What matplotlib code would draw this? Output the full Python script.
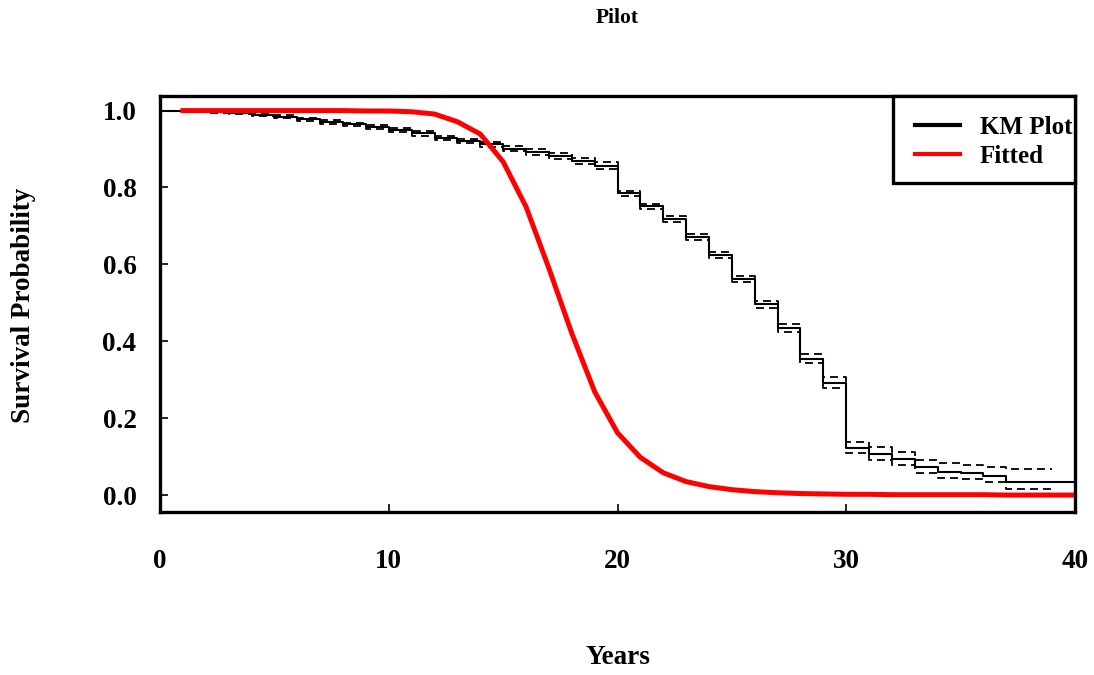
import matplotlib
matplotlib.use('Agg')
import matplotlib.pyplot as plt
from matplotlib.patches import Rectangle

# Kaplan-Meier survival per year (value holding from that year on)
km_years = list(range(0, 38))
km_surv = [1.000, 0.998, 0.996, 0.993, 0.989, 0.984, 0.978, 0.971, 0.964, 0.958,
           0.950, 0.941, 0.929, 0.921, 0.912, 0.901, 0.892, 0.881, 0.870, 0.857,
           0.785, 0.751, 0.718, 0.672, 0.625, 0.561, 0.496, 0.435, 0.355, 0.292,
           0.122, 0.107, 0.094, 0.072, 0.061, 0.057, 0.050, 0.033]
km_upper = [1.000, 0.999, 0.998, 0.996, 0.992, 0.988, 0.982, 0.976, 0.969, 0.963,
            0.956, 0.947, 0.935, 0.927, 0.919, 0.908, 0.899, 0.889, 0.878, 0.865,
            0.792, 0.758, 0.725, 0.680, 0.633, 0.569, 0.505, 0.445, 0.367, 0.307,
            0.139, 0.124, 0.113, 0.091, 0.083, 0.078, 0.074, 0.067]
km_lower = [1.000, 0.997, 0.994, 0.990, 0.986, 0.980, 0.974, 0.966, 0.959, 0.953,
            0.944, 0.935, 0.923, 0.915, 0.905, 0.894, 0.885, 0.873, 0.862, 0.849,
            0.778, 0.744, 0.711, 0.664, 0.617, 0.553, 0.487, 0.425, 0.343, 0.279,
            0.109, 0.091, 0.078, 0.057, 0.044, 0.043, 0.035, 0.017]
km_end = 40     # KM curve is carried to the end of the axis
ci_end = 39     # confidence bands stop at the last observation

# fitted survival curve, evaluated at whole years
fit_years = list(range(1, 41))
fit_surv = [1.000, 1.000, 1.000, 1.000, 1.000, 1.000, 1.000, 1.000, 0.999, 0.999,
            0.997, 0.991, 0.971, 0.939, 0.867, 0.750, 0.590, 0.421, 0.269, 0.162,
            0.098, 0.058, 0.035, 0.022, 0.014, 0.009, 0.006, 0.004, 0.003, 0.002,
            0.002, 0.001, 0.001, 0.001, 0.001, 0.001, 0.000, 0.000, 0.000, 0.000]

x_ticks = [0, 10, 20, 30, 40]
y_ticks = [0.0, 0.2, 0.4, 0.6, 0.8, 1.0]

plt.rcParams['font.family'] = ['Liberation Serif', 'DejaVu Serif']
plt.rcParams['font.weight'] = 'bold'

fig = plt.figure(figsize=(10.94, 6.75), dpi=100)
ax = fig.add_axes([0.1463, 0.2415, 0.8363, 0.6163])

# step curves
ax.plot(km_years + [km_end], km_surv + [km_surv[-1]], drawstyle='steps-post',
        color='black', lw=1.5, label='KM Plot')
ax.plot(km_years + [ci_end], km_upper + [km_upper[-1]], drawstyle='steps-post',
        color='black', lw=1.3, dashes=(4.4, 2.8))
ax.plot(km_years + [ci_end], km_lower + [km_lower[-1]], drawstyle='steps-post',
        color='black', lw=1.3, dashes=(4.4, 2.8))
ax.plot(fit_years, fit_surv, color='#ff0000', lw=3.6, label='Fitted')

ax.set_xlim(0, 40)
ax.set_ylim(-0.044, 1.038)
ax.set_xticks(x_ticks)
ax.set_yticks(y_ticks)
ax.set_xticklabels([str(t) for t in x_ticks])
ax.set_yticklabels(['%.1f' % t for t in y_ticks])
ax.tick_params(axis='x', direction='in', length=6, width=1.2, pad=27, labelsize=19.5)
ax.tick_params(axis='y', direction='in', length=6, width=1.2, pad=17, labelsize=19.5)
for s in ax.spines.values():
    s.set_linewidth(2.4)

# legend box: frame drawn separately so the entries sit off-centre inside it
ax.add_patch(Rectangle((0.8011, 0.7909), 0.1989, 0.2091, transform=ax.transAxes,
                       facecolor='white', edgecolor='black', lw=2.4,
                       clip_on=False, zorder=4))
leg = ax.legend(loc='upper left', bbox_to_anchor=(0.8251, 0.953),
                borderaxespad=0, borderpad=0, frameon=False, fontsize=18,
                handlelength=1.8, handletextpad=0.8, labelspacing=0.25)
leg.set_zorder(5)
for line in leg.get_lines():
    line.set_linewidth(3)

fig.text(0.5645, 1 - 18 / 675, 'Pilot', ha='center', va='center', fontsize=15.5,
         fontweight='bold')
fig.text(0.5645, 1 - 658 / 675, 'Years', ha='center', va='center', fontsize=19.5,
         fontweight='bold')
fig.text(24 / 1094, 1 - 305 / 675, 'Survival Probability', ha='center',
         va='center', rotation=90, fontsize=19.5, fontweight='bold')

fig.savefig('out.png', dpi=100)
